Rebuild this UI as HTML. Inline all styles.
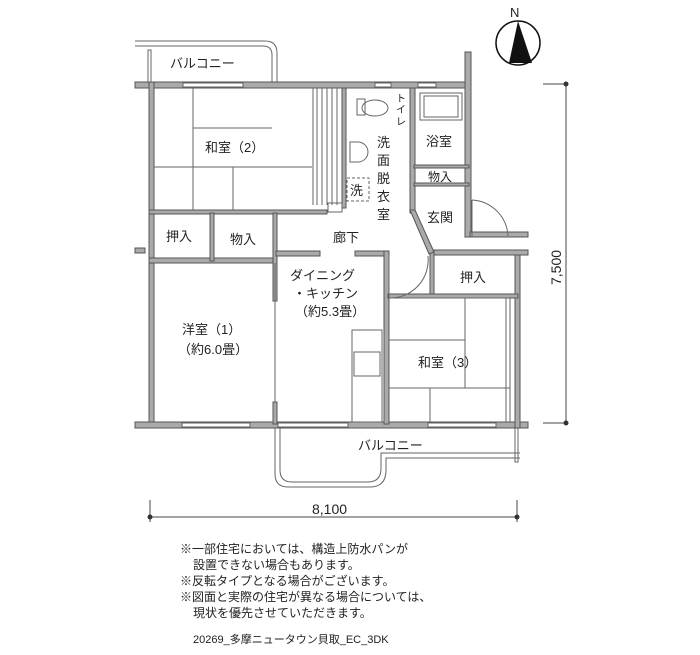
<!DOCTYPE html><html><head><meta charset="utf-8"><style>
body{margin:0;background:#fff;width:700px;height:650px;overflow:hidden}
svg text{font-family:"Liberation Sans","Noto Sans CJK JP",sans-serif;fill:#222}
.w{fill:#aaa;stroke:#555;stroke-width:1}
.l{stroke:#666;stroke-width:1;fill:none}
</style></head><body>
<svg width="700" height="650" viewBox="0 0 700 650">
<!-- balconies -->
<path class="l" d="M135 41 H265 Q277 41 277 53 V82"/><path class="l" d="M135 46 H263 Q272 46 272 55 V82"/>
<rect x="148" y="50" width="3" height="32" class="l"/>
<path class="l" d="M275 428 V474 Q275 487 288 487 H370 Q386 487 386 470 V458 H520"/>
<path class="l" d="M280 428 V470 Q280 482 292 482 H368 Q381 482 381 468 V453 H520"/>
<rect x="515" y="428" width="3" height="34" class="l"/>
<!-- walls -->
<rect class="w" x="135" y="82" width="336" height="6"/>
<rect class="w" x="465" y="52" width="6" height="185"/>
<rect class="w" x="149" y="82" width="5" height="346"/>
<rect class="w" x="135" y="422" width="393" height="6"/>
<rect class="w" x="515" y="250" width="5" height="178"/>
<rect class="w" x="470" y="232" width="58" height="5"/>
<rect class="w" x="430" y="250" width="98" height="5"/>
<rect class="w" x="135" y="248" width="10" height="5"/>
<rect class="w" x="149" y="210" width="178" height="4"/>
<rect class="w" x="149" y="258" width="128" height="5"/>
<rect class="w" x="210" y="213" width="4" height="48"/>
<rect class="w" x="273" y="213" width="4" height="88"/>
<rect class="w" x="273" y="402" width="4" height="22"/>
<rect class="w" x="276" y="251" width="44" height="5"/>
<rect class="w" x="355" y="251" width="33" height="5"/>
<rect class="w" x="384" y="251" width="5" height="173"/>
<rect class="w" x="430" y="250" width="4" height="47"/>
<rect class="w" x="388" y="294" width="130" height="4"/>
<rect class="w" x="410" y="88" width="5" height="125"/>
<rect class="w" x="342" y="88" width="4" height="120"/>
<rect class="w" x="414" y="165" width="55" height="3"/>
<rect class="w" x="414" y="183" width="55" height="3"/>
<path class="w" d="M410 210 L415 210 L434 252 L429 254 Z"/>
<!-- windows (white gaps) -->
<g fill="#fff" stroke="#666"><rect x="183" y="83" width="60" height="4"/><rect x="182" y="423" width="68" height="4"/><rect x="278" y="423" width="70" height="4"/><rect x="428" y="423" width="68" height="4"/><rect x="375" y="83" width="16" height="4"/><rect x="418" y="83" width="18" height="4"/></g>
<!-- closet lines -->
<g class="l"><path d="M313 88V205M317 88V205M322 88V205M327 88V205M332 88V205M337 88V205"/><rect x="328" y="203" width="14" height="9"/></g>
<!-- tatami -->
<g class="l"><path d="M193 88V210M193 128H272M193 167H312M233 167V210M154 167H193"/>
<path d="M389 298H510V422M389 340H465M465 298V388M389 388H510M430 388V422"/>
<path d="M506 298V422"/></g>
<!-- toilet, bath, sink -->
<g class="l"><rect x="420" y="93" width="42" height="27"/><rect x="424" y="96" width="34" height="21"/>
<ellipse cx="375" cy="108" rx="13" ry="8"/><rect x="357" y="99" width="8" height="16"/>
<path d="M350 142h8a9 9 0 0 1 0 20h-8z"/><rect x="347" y="178" width="22" height="23" stroke-dasharray="3 2"/>
<rect x="352" y="330" width="30" height="92"/><rect x="354" y="352" width="26" height="24"/>
<path d="M472 200A38 38 0 0 1 508 236M390 298A38 38 0 0 0 428 256"/><path d="M472 200V237M389 298V255"/>
<path d="M275 263V402"/></g>
<!-- labels -->
<g font-size="13">
<text x="170" y="68">バルコニー</text>
<text x="205" y="152">和室（2）</text>
<text x="426" y="146">浴室</text>
<text x="428" y="181" font-size="12">物入</text>
<text x="427" y="222">玄関</text>
<text x="166" y="241">押入</text>
<text x="230" y="244">物入</text>
<text x="333" y="242">廊下</text>
<text x="290" y="280">ダイニング</text>
<text x="293" y="298">・キッチン</text>
<text x="295" y="316">（約5.3畳）</text>
<text x="182" y="334">洋室（1）</text>
<text x="178" y="354">（約6.0畳）</text>
<text x="460" y="282">押入</text>
<text x="418" y="367">和室（3）</text>
<text x="358" y="450">バルコニー</text>
<text x="377" y="147">洗</text><text x="377" y="165">面</text><text x="377" y="183">脱</text><text x="377" y="201">衣</text><text x="377" y="219" font-size="0"></text>
<text x="377" y="205" font-size="0"></text>
<text x="350" y="195">洗</text>
<text x="396" y="102" font-size="10">ト</text><text x="396" y="113" font-size="10">イ</text><text x="396" y="125" font-size="10">レ</text>
</g>
<text x="377" y="219" font-size="13">室</text>
<!-- dimensions -->
<g stroke="#444" fill="none"><path d="M543 84H566V423H543M150 500V522M517 500V522M150 517H517"/></g>
<circle cx="566" cy="84" r="2.5" fill="#333"/><circle cx="566" cy="423" r="2.5" fill="#333"/>
<circle cx="150" cy="517" r="2.5" fill="#333"/><circle cx="517" cy="517" r="2.5" fill="#333"/>
<text font-size="14" transform="translate(561 285) rotate(-90)">7,500</text>
<text x="312" y="514" font-size="14">8,100</text>
<!-- north -->
<circle cx="518" cy="43" r="22" fill="none" stroke="#111" stroke-width="1.5"/>
<path d="M518 21 L509 63 L532 63 Z" fill="#111"/>
<text x="510" y="17" font-size="13">N</text>
<g font-size="12">
<text x="180" y="553">※一部住宅においては、構造上防水パンが</text>
<text x="193" y="569">設置できない場合もあります。</text>
<text x="180" y="585">※反転タイプとなる場合がございます。</text>
<text x="180" y="601">※図面と実際の住宅が異なる場合については、</text>
<text x="193" y="617">現状を優先させていただきます。</text>
<text x="193" y="643" font-size="11">20269_多摩ニュータウン貝取_EC_3DK</text>
</g>
</svg></body></html>
